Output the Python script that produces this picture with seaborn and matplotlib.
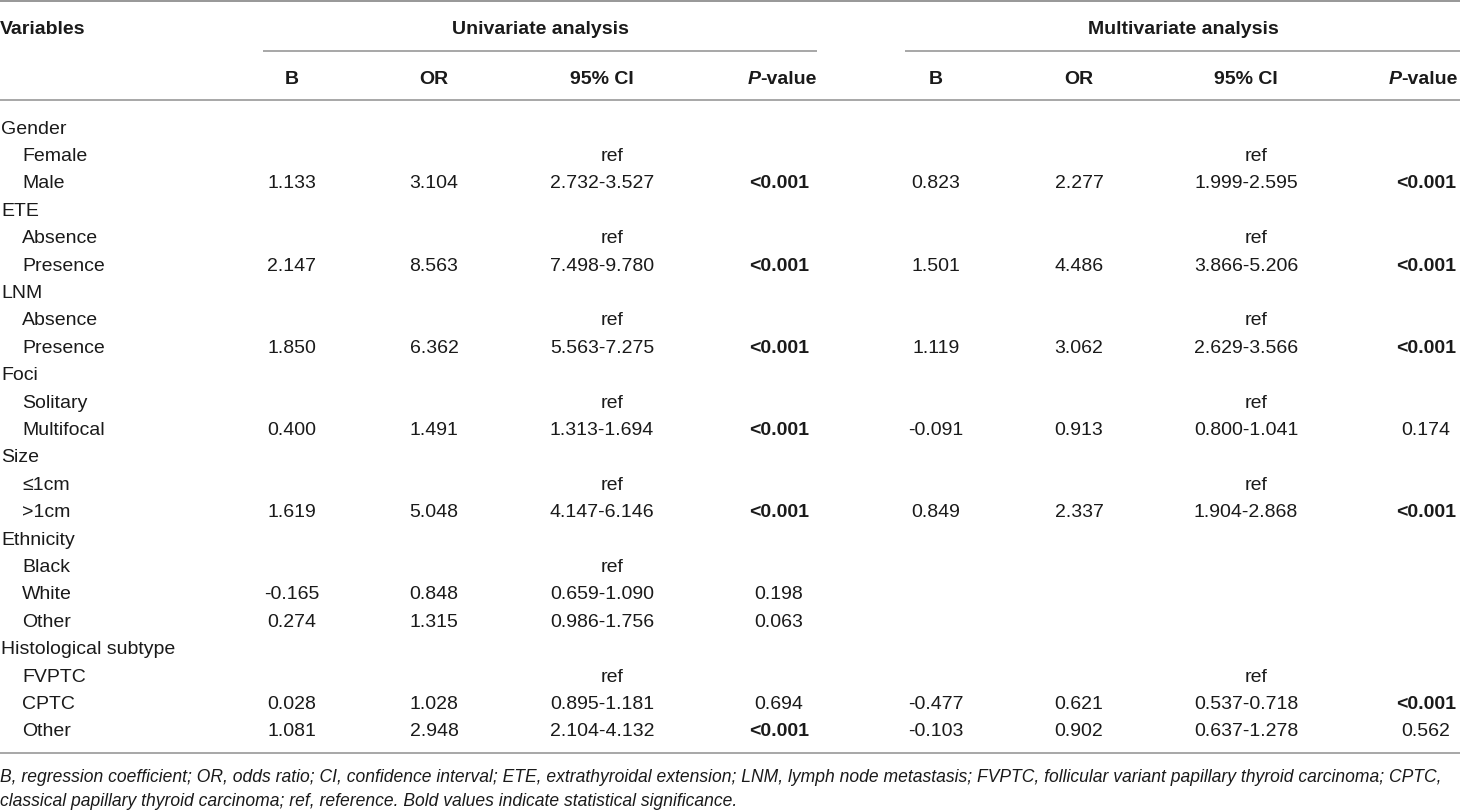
import matplotlib
matplotlib.use("Agg")
import matplotlib.pyplot as plt
import seaborn as sns
import pandas as pd

# table content
variables = ["Gender", "Female", "Male", "ETE", "Absence", "Presence", "LNM", "Absence", "Presence",
             "Foci", "Solitary", "Multifocal", "Size", "≤1cm", ">1cm", "Ethnicity", "Black", "White",
             "Other", "Histological subtype", "FVPTC", "CPTC", "Other"]
is_group = [True, False, False, True, False, False, True, False, False, True, False, False,
            True, False, False, True, False, False, False, True, False, False, False]

uni_b = ["", "", "1.133", "", "", "2.147", "", "", "1.850", "", "", "0.400", "", "", "1.619",
         "", "", "-0.165", "0.274", "", "", "0.028", "1.081"]
uni_or = ["", "", "3.104", "", "", "8.563", "", "", "6.362", "", "", "1.491", "", "", "5.048",
          "", "", "0.848", "1.315", "", "", "1.028", "2.948"]
uni_ci = ["", "ref", "2.732-3.527", "", "ref", "7.498-9.780", "", "ref", "5.563-7.275", "", "ref",
          "1.313-1.694", "", "ref", "4.147-6.146", "", "ref", "0.659-1.090", "0.986-1.756", "", "ref",
          "0.895-1.181", "2.104-4.132"]
uni_p = ["", "", "<0.001", "", "", "<0.001", "", "", "<0.001", "", "", "<0.001", "", "", "<0.001",
         "", "", "0.198", "0.063", "", "", "0.694", "<0.001"]

multi_b = ["", "", "0.823", "", "", "1.501", "", "", "1.119", "", "", "-0.091", "", "", "0.849",
           "", "", "", "", "", "", "-0.477", "-0.103"]
multi_or = ["", "", "2.277", "", "", "4.486", "", "", "3.062", "", "", "0.913", "", "", "2.337",
            "", "", "", "", "", "", "0.621", "0.902"]
multi_ci = ["", "ref", "1.999-2.595", "", "ref", "3.866-5.206", "", "ref", "2.629-3.566", "", "ref",
            "0.800-1.041", "", "ref", "1.904-2.868", "", "", "", "", "", "ref",
            "0.537-0.718", "0.637-1.278"]
multi_p = ["", "", "<0.001", "", "", "<0.001", "", "", "<0.001", "", "", "0.174", "", "", "<0.001",
           "", "", "", "", "", "", "<0.001", "0.562"]

col_labels = ["B", "OR", "95% CI"]
group_labels = ["Univariate analysis", "Multivariate analysis"]
footnote = ["B, regression coefficient; OR, odds ratio; CI, confidence interval; ETE, extrathyroidal "
            "extension; LNM, lymph node metastasis; FVPTC, follicular variant papillary thyroid carcinoma; CPTC,",
            "classical papillary thyroid carcinoma; ref, reference. Bold values indicate statistical significance."]

df = pd.DataFrame({"var": variables, "group": is_group,
                   "ub": uni_b, "uor": uni_or, "uci": uni_ci, "up": uni_p,
                   "mb": multi_b, "mor": multi_or, "mci": multi_ci, "mp": multi_p})

sns.set_theme(style="white")
plt.rcParams["font.family"] = ["Liberation Sans", "DejaVu Sans"]

W, H = 1460, 810
fig = plt.figure(figsize=(14.6, 8.1), dpi=100)
ax = fig.add_axes([0, 0, 1, 1])
ax.set_xlim(0, W)
ax.set_ylim(H, 0)
ax.axis("off")

txt = "#1a1a1a"
line_c = "#8f8f8f"
fs = 14
dy = 3  # text nudge so glyphs sit like the reference

# layout
uni_x = {"ub": 292, "uor": 434, "uci": 602, "up": 779}
multi_x = {"mb": 936, "mor": 1079, "mci": 1246, "mp": 1426}
row0, row_step = 126, (729 - 126) / 22

# rules
ax.hlines(1, 0, W, color=line_c, lw=1.3)
ax.hlines(51, 263, 817, color=line_c, lw=1.1)
ax.hlines(51, 905, W, color=line_c, lw=1.1)
ax.hlines(100, 0, W, color=line_c, lw=1.1)
ax.hlines(753, 0, W, color=line_c, lw=1.1)

# headers
ax.text(0, 26 + dy, "Variables", fontsize=fs, fontweight="bold", color=txt, va="center", ha="left")
ax.text(540, 26 + dy, group_labels[0], fontsize=fs, fontweight="bold", color=txt, va="center", ha="center")
ax.text(1183, 26 + dy, group_labels[1], fontsize=fs, fontweight="bold", color=txt, va="center", ha="center")

fig.canvas.draw()
renderer = fig.canvas.get_renderer()
for xs, right in [(uni_x, 817), (multi_x, 1458)]:
    keys = list(xs.keys())
    for lab, k in zip(col_labels, keys[:3]):
        ax.text(xs[k], 76 + dy, lab, fontsize=fs, fontweight="bold", color=txt, va="center", ha="center")
    t = ax.text(right, 76 + dy, "-value", fontsize=fs, fontweight="bold", color=txt, va="center", ha="right")
    bb = t.get_window_extent(renderer)
    left = ax.transData.inverted().transform((bb.x0, bb.y0))[0]
    ax.text(left, 76 + dy, "P", fontsize=fs, fontweight="bold", fontstyle="italic", color=txt,
            va="center", ha="right")

# body
for i, row in df.iterrows():
    y = row0 + i * row_step + dy
    x0 = 1 if row["group"] else 22
    ax.text(x0, y, row["var"], fontsize=fs, color=txt, va="center", ha="left")
    for k, x in list(uni_x.items()) + list(multi_x.items()):
        val = row[k]
        if not val:
            continue
        xx = x + 10 if val == "ref" else x
        bold = val == "<0.001"
        ax.text(xx, y, val, fontsize=fs, color=txt, va="center", ha="center",
                fontweight="bold" if bold else "normal")

# footnote, sized so the first line spans the table width
f1 = ax.text(0, 777, footnote[0], fontsize=fs, fontstyle="italic", color=txt, va="center", ha="left")
w1 = f1.get_window_extent(renderer).width
ffs = fs * 1450 / w1
f1.set_fontsize(ffs)
ax.text(0, 801, footnote[1], fontsize=ffs, fontstyle="italic", color=txt, va="center", ha="left")

fig.savefig("out.png", dpi=100, facecolor="white")
